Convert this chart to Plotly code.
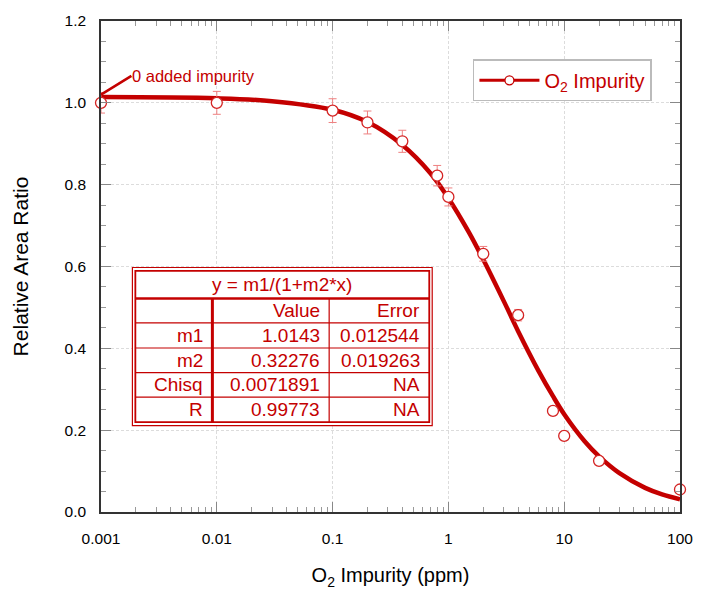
import plotly.graph_objects as go

# ---- data ----
conc_ppm = [0.001, 0.01, 0.1, 0.2, 0.4, 0.8, 1, 2, 4, 8, 10, 20, 100]
rel_area = [1.0, 1.0, 0.981, 0.952, 0.906, 0.822, 0.770, 0.631, 0.481, 0.247, 0.186, 0.125, 0.055]
rel_err = [0.025, 0.028, 0.029, 0.028, 0.027, 0.025, 0.022, 0.018, 0.014, 0.010, 0.008, 0.006, 0.004]

fit_x = [0.001, 0.01, 0.03, 0.1, 0.2, 0.4, 0.7, 1, 1.5, 2, 3, 4, 6, 8, 10, 15, 20, 30, 50, 70, 100]
fit_y = [1.014, 1.011, 1.004, 0.983, 0.953, 0.897, 0.828, 0.767, 0.684, 0.617, 0.516, 0.442,
         0.345, 0.283, 0.239, 0.173, 0.136, 0.095, 0.059, 0.043, 0.031]

table_title = "y = m1/(1+m2*x)"
table_cols = ["", "Value", "Error"]
row_names = ["m1", "m2", "Chisq", "R"]
row_values = ["1.0143", "0.32276", "0.0071891", "0.99773"]
row_errors = ["0.012544", "0.019263", "NA", "NA"]

x_tickvals = [0.001, 0.01, 0.1, 1, 10, 100]
x_ticktext = ["0.001", "0.01", "0.1", "1", "10", "100"]
x_minor = [m * 10.0 ** d for d in range(-3, 2) for m in range(2, 10)]
y_tickvals = [0, 0.2, 0.4, 0.6, 0.8, 1.0, 1.2]

RED = "#c40000"
PT = "#d42424"
FONT = "Liberation Sans, Arial, sans-serif"

W, H = 705, 595
ML, MR, MT, MB = 101, 14, 17, 78
PW, PH = W - ML - MR, H - MT - MB


def px(x):
    return (x - ML) / PW


def py(y):
    return (H - MB - y) / PH


fig = go.Figure()

fig.add_trace(go.Scatter(
    x=fit_x, y=fit_y, mode="lines", line=dict(color=RED, width=4.5, shape="spline"),
    showlegend=False, hoverinfo="skip"))

fig.add_trace(go.Scatter(
    x=conc_ppm, y=rel_area, mode="markers",
    marker=dict(symbol="circle", size=11, color="white", line=dict(color=PT, width=1.3)),
    error_y=dict(type="data", array=rel_err, color="#ee8080", thickness=1, width=4),
    showlegend=False, cliponaxis=False))

# legend-only entry
fig.add_trace(go.Scatter(
    x=[None], y=[None], mode="lines+markers", name="O<sub>2</sub> Impurity",
    line=dict(color=RED, width=3),
    marker=dict(symbol="circle", size=9, color="white", line=dict(color=RED, width=1.3))))

shapes = []
annotations = []

# table geometry (pixel positions)
tx0, tx1 = 133, 438.5
ty0, ty1 = 268, 429
ix0, ix1, iy0, iy1 = 136, 435.5, 271.5, 425.5
row_lines = [299.5, 324.5, 350, 375, 400]
col_thick = 214.5
col_thin = 333.5

shapes.append(dict(type="rect", xref="paper", yref="paper", x0=px(tx0), x1=px(tx1),
                   y0=py(ty1), y1=py(ty0), line=dict(color=RED, width=1.2), fillcolor="white", layer="above"))
shapes.append(dict(type="rect", xref="paper", yref="paper", x0=px(ix0), x1=px(ix1),
                   y0=py(iy1), y1=py(iy0), line=dict(color=RED, width=1.8), layer="above"))
for i, yl in enumerate(row_lines):
    shapes.append(dict(type="line", xref="paper", yref="paper", x0=px(ix0), x1=px(ix1),
                       y0=py(yl), y1=py(yl), line=dict(color=RED, width=2.5 if i == 0 else 1.2), layer="above"))
shapes.append(dict(type="line", xref="paper", yref="paper", x0=px(col_thick), x1=px(col_thick),
                   y0=py(iy1), y1=py(row_lines[0]), line=dict(color=RED, width=3), layer="above"))
shapes.append(dict(type="line", xref="paper", yref="paper", x0=px(col_thin), x1=px(col_thin),
                   y0=py(iy1), y1=py(row_lines[0]), line=dict(color=RED, width=1.2), layer="above"))

tfont = dict(family=FONT, size=19, color=RED)
annotations.append(dict(xref="paper", yref="paper", x=px((ix0 + ix1) / 2), y=py((iy0 + row_lines[0]) / 2),
                        text=table_title, showarrow=False, font=tfont, xanchor="center", yanchor="middle"))
row_bounds = [row_lines[0]] + row_lines[1:] + [iy1]
col_right = [207, 326, 428]
for c, txt in enumerate(table_cols):
    if txt:
        annotations.append(dict(xref="paper", yref="paper", x=px(col_right[c]),
                                y=py((row_bounds[0] + row_bounds[1]) / 2), text=txt, showarrow=False,
                                font=tfont, xanchor="right", yanchor="middle"))
for r in range(len(row_names)):
    yc = py((row_bounds[r + 1] + row_bounds[r + 2]) / 2)
    for c, txt in enumerate([row_names[r], row_values[r], row_errors[r]]):
        annotations.append(dict(xref="paper", yref="paper", x=px(col_right[c]), y=yc, text=txt,
                                showarrow=False, font=tfont, xanchor="right", yanchor="middle"))

# "0 added impurity" callout (tail position in log-x / y data units)
annotations.append(dict(x=-3, y=1.02, xref="x", yref="y", text="0 added impurity", showarrow=True,
                        arrowhead=0, arrowwidth=2.5, arrowcolor=RED,
                        ax=-3 + 31 / 118, ay=1.066, axref="x", ayref="y",
                        font=dict(family=FONT, size=16.5, color=RED), xanchor="left", yanchor="middle",
                        standoff=0, borderpad=0))

grid = dict(showgrid=True, gridcolor="#dcdcdc", griddash="3px,2px", gridwidth=1)
fig.update_layout(
    width=W, height=H, margin=dict(l=ML, r=MR, t=MT, b=MB),
    paper_bgcolor="white", plot_bgcolor="white",
    font=dict(family=FONT, size=15, color="black"),
    shapes=shapes, annotations=annotations,
    legend=dict(x=px(480), y=py(56), xanchor="left", yanchor="top", bgcolor="white",
                bordercolor="#bbbbbb", borderwidth=1.5, itemwidth=60,
                font=dict(family=FONT, size=20, color=RED)),
    xaxis=dict(type="log", range=[-3, 2], tickvals=x_tickvals, ticktext=x_ticktext,
               showline=True, linecolor="#333", linewidth=1.5, mirror="allticks",
               ticks="inside", ticklen=10, tickcolor="#888", ticklabelstandoff=12,
               minor=dict(tickvals=x_minor, ticks="inside", ticklen=5, tickcolor="#999", showgrid=False),
               tickfont=dict(size=15.5), zeroline=False, **grid,
               title=dict(text="O<sub>2</sub> Impurity (ppm)", font=dict(size=20), standoff=22)),
    yaxis=dict(range=[0, 1.2], tickvals=y_tickvals, tickformat=".1f",
               showline=True, linecolor="#333", linewidth=1.5, mirror="allticks",
               ticks="inside", ticklen=10, tickcolor="#888", ticklabelstandoff=10,
               minor=dict(dtick=0.05, ticks="inside", ticklen=5, tickcolor="#999", showgrid=False),
               tickfont=dict(size=15.5), zeroline=False, **grid,
               title=dict(text="Relative Area Ratio", font=dict(size=21), standoff=30)),
)

fig.write_html("out.html")
